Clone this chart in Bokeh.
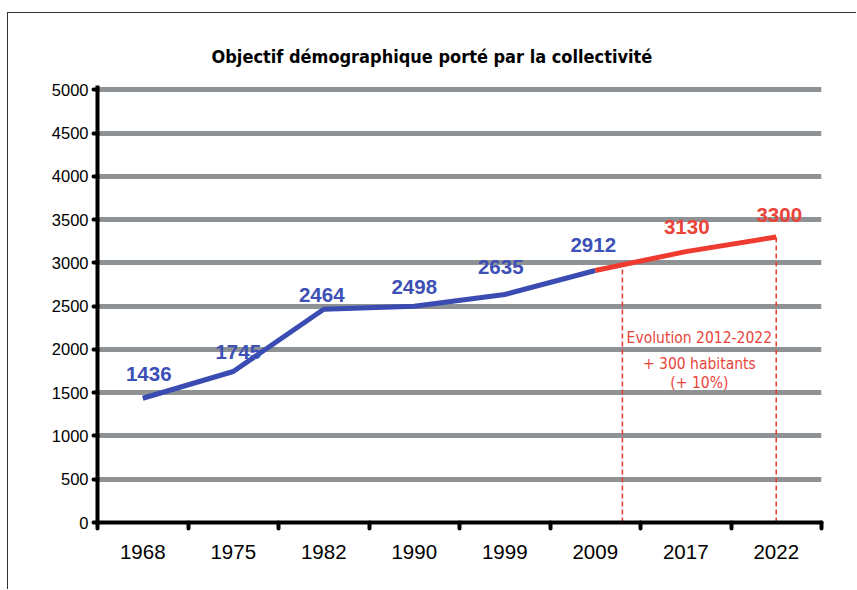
from bokeh.plotting import figure
from bokeh.models import FixedTicker, Range1d, Label, ColumnDataSource
from bokeh.embed import file_html
from bokeh.resources import INLINE
from bokeh.core.properties import value
import numpy as np

# ---------------- data ----------------
years = ["1968", "1975", "1982", "1990", "1999", "2009", "2017", "2022"]
population_observed = [1436, 1745, 2464, 2498, 2635, 2912]          # 1968 .. 2009
population_objective = [2912, 3130, 3300]                           # 2009, 2017, 2022
objective_years = ["2009", "2017", "2022"]
y_ticks = [0, 500, 1000, 1500, 2000, 2500, 3000, 3500, 4000, 4500, 5000]
title_text = "Objectif démographique porté par la collectivité"
annotation_lines = ["Evolution 2012-2022", "+ 300 habitants", "(+ 10%)"]
# positions (in category units) of the dashed red markers: 2012 and 2022
marker_positions = [5.8, 7.5]

# ---------------- derived positions ----------------
pos = {y: i + 0.5 for i, y in enumerate(years)}
x_obs = [pos[y] for y in years[:len(population_observed)]]
x_obj = [pos[y] for y in objective_years]

BLUE = "#3a4cb1"
BLUE_TXT = "#3d50b6"
RED = "#ef3a30"
RED_TXT = "#e9433a"
GRID = "#8e9295"

W, H = 849, 577
p = figure(width=W, height=H, output_backend="svg", toolbar_location=None,
           x_range=Range1d(0, 8), y_range=Range1d(0, 5050),
           min_border_left=89, min_border_right=36, min_border_top=72, min_border_bottom=68)
p.styles = {"margin-left": "7px", "margin-top": "12px",
            "border-left": "1px solid #333333", "border-top": "1px solid #333333"}
p.outline_line_color = None
p.background_fill_color = "white"
p.border_fill_color = "white"

# title
p.title.text = title_text
p.title.align = "left"
p.title.offset = 114
p.title.text_font = "DejaVu Sans Condensed"
p.title.text_font_style = "bold"
p.title.text_font_size = "18px"
p.title.text_color = "black"
p.title.standoff = 38

# grid
p.xgrid.grid_line_color = None
p.ygrid.ticker = FixedTicker(ticks=[t for t in y_ticks if t > 0])
p.ygrid.grid_line_color = GRID
p.ygrid.grid_line_width = 5

# y axis
ya = p.yaxis[0]
ya.ticker = FixedTicker(ticks=y_ticks)
ya.axis_line_width = 4
ya.axis_line_color = "black"
ya.major_tick_line_width = 4
ya.major_tick_line_cap = "round"
ya.major_tick_out = 4
ya.major_tick_in = 0
ya.minor_tick_line_color = None
ya.major_label_text_font = "Liberation Sans"
ya.major_label_text_font_size = "16.5px"
ya.major_label_text_color = "black"
ya.major_label_standoff = 5

# x axis
xa = p.xaxis[0]
xa.ticker = FixedTicker(ticks=[pos[y] for y in years], minor_ticks=list(range(len(years) + 1)))
xa.major_label_overrides = {pos[y]: y for y in years}
xa.axis_line_width = 4
xa.axis_line_color = "black"
xa.axis_line_cap = "round"
xa.major_tick_line_color = None
xa.major_tick_out = 0
xa.major_tick_in = 0
xa.minor_tick_line_color = "black"
xa.minor_tick_line_width = 4
xa.minor_tick_line_cap = "round"
xa.minor_tick_out = 6
xa.minor_tick_in = 0
xa.major_label_text_font = "Liberation Sans"
xa.major_label_text_font_size = "20.5px"
xa.major_label_text_color = "black"
xa.major_label_standoff = 16

# dashed markers
marker_tops = list(np.interp(marker_positions, x_obj, population_objective))
p.segment(x0=marker_positions, y0=[0, 0], x1=marker_positions, y1=marker_tops,
          line_color="#e8403a", line_width=1.6, line_dash="5 3")

# lines
p.line(x_obs, population_observed, line_color=BLUE, line_width=5, line_join="round")
p.line(x_obj, population_objective, line_color=RED, line_width=5, line_join="round")

# value labels
obs_dx = [6, 5, -2, 0, -4, -2]
obs_dy = [-24, -19, -14, -19, -27, -26]
src_obs = ColumnDataSource(dict(x=x_obs, y=population_observed,
                                t=[str(v) for v in population_observed], dx=obs_dx, dy=obs_dy))
p.text(x="x", y="y", text="t", x_offset="dx", y_offset="dy", source=src_obs,
       text_font=value("Liberation Sans"), text_font_style="bold", text_font_size="20.5px",
       text_color=BLUE_TXT, text_align="center", text_baseline="middle")

obj_dx = [1, 3]
obj_dy = [-25, -22]
src_obj = ColumnDataSource(dict(x=x_obj[1:], y=population_objective[1:],
                                t=[str(v) for v in population_objective[1:]], dx=obj_dx, dy=obj_dy))
p.text(x="x", y="y", text="t", x_offset="dx", y_offset="dy", source=src_obj,
       text_font=value("Liberation Sans"), text_font_style="bold", text_font_size="20.5px",
       text_color=RED_TXT, text_align="center", text_baseline="middle")

# annotation text block
ann_x = 6.65
ann_y = [2130, 1830, 1610]
for line_txt, yy in zip(annotation_lines, ann_y):
    p.add_layout(Label(x=ann_x, y=yy, text=line_txt, text_color=RED_TXT,
                       text_font="DejaVu Sans Condensed", text_font_size="15.5px",
                       text_align="center", text_baseline="middle"))

open("out.html", "w").write(file_html(p, INLINE))
